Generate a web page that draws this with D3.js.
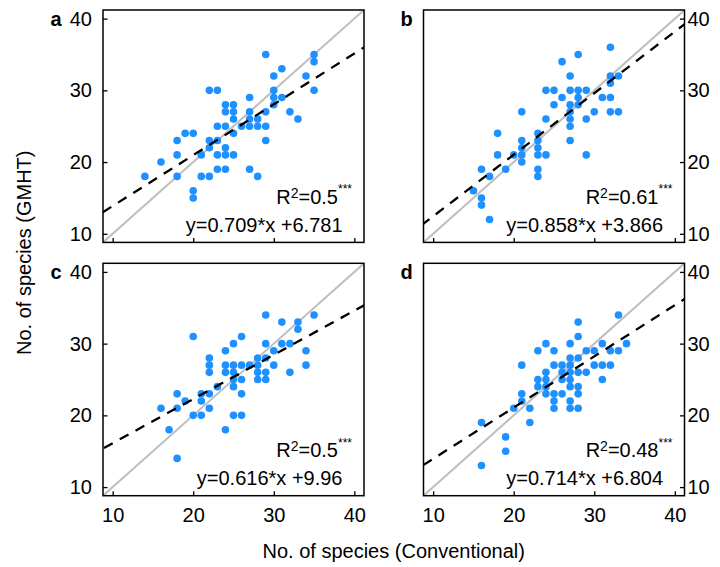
<!DOCTYPE html>
<html>
<head>
<meta charset="utf-8">
<script src="https://cdn.jsdelivr.net/npm/d3@7"></script>
<style>
  body { margin: 0; background: #fff; }
  svg text { font-family: "Liberation Sans", Arial, Helvetica, sans-serif; }
</style>
</head>
<body>
<div id="chart"></div>
<script>
// panel labels, fits and stats
const panelLabels = ["a", "b", "c", "d"];
const slopes = [0.709, 0.858, 0.616, 0.714];
const intercepts = [6.781, 3.866, 9.96, 6.804];
const r2 = ["0.5", "0.61", "0.5", "0.48"];
const ticks = [10, 20, 30, 40];

// [conventional, GMHT] species counts per site
const pointsA = [[29,35],[35,35],[35,34],[35,30],[31,33],[34,32],[30,32],[22,30],[23,30],[30,30],
  [30,29],[31,29],[30,28],[27,29],[24,28],[25,28],[24,27],[25,27],[27,27],[29,27],[32,27],
  [25,26],[27,26],[28,26],[33,26],[23,25],[24,25],[26,25],[27,25],[28,25],[29,25],[19,24],
  [20,24],[25,24],[18,23],[22,23],[23,23],[29,23],[22,22],[24,22],[18,21],[21,21],[23,21],
  [24,21],[25,21],[16,20],[14,18],[18,18],[21,18],[22,18],[23,19],[24,19],[27,19],[28,18],
  [20,16],[20,15]];
const pointsB = [[32,36],[28,35],[26,34],[27,32],[32,32],[33,32],[32,31],[24,30],[25,30],[27,30],
  [28,30],[29,30],[26,29],[28,29],[31,29],[32,29],[25,28],[27,28],[28,28],[27,27],[21,27],
  [30,27],[32,27],[33,27],[24,26],[27,26],[29,26],[27,25],[18,24],[23,24],[23,23],[21,23],
  [27,23],[21,22],[23,22],[18,21],[20,21],[21,21],[23,21],[24,21],[29,21],[21,20],[16,19],
  [19,19],[23,19],[17,18],[23,18],[15,16],[16,15],[16,14],[17,12]];
const pointsC = [[29,34],[35,34],[31,33],[33,33],[33,32],[20,31],[26,31],[25,30],[29,30],[31,30],
  [32,30],[24,29],[30,29],[34,29],[22,28],[28,28],[29,28],[22,27],[24,27],[25,27],[26,27],
  [27,27],[28,27],[30,27],[34,27],[22,26],[24,26],[25,26],[28,26],[29,26],[32,26],[25,25],
  [26,25],[28,25],[29,25],[23,24],[25,24],[18,23],[21,23],[22,23],[26,23],[19,22],[21,22],
  [16,21],[18,21],[22,21],[20,20],[21,20],[25,20],[26,20],[17,18],[24,18],[18,14]];
const pointsD = [[33,34],[28,33],[28,31],[24,30],[27,30],[31,30],[34,30],[23,29],[25,29],[29,29],
  [30,29],[32,29],[33,29],[27,28],[28,28],[21,27],[25,27],[26,27],[27,27],[30,27],[31,27],
  [32,27],[24,26],[26,26],[27,26],[28,26],[29,26],[23,25],[24,25],[26,25],[27,25],[31,25],
  [23,24],[24,24],[27,24],[28,24],[21,23],[24,23],[25,23],[26,23],[28,23],[21,22],[25,22],
  [27,22],[20,21],[22,21],[25,21],[27,21],[28,21],[16,19],[22,19],[19,17],[19,15],[16,13]];
const allPoints = [pointsA, pointsB, pointsC, pointsD];

const W = 720, H = 567;
const pw = 261, ph = 232.4;
const lefts = [103, 423.5], tops = [10, 263.3];
const fs = 20;

const svg = d3.select("#chart").append("svg")
    .attr("width", W)
    .attr("height", H);

allPoints.forEach(function(pts, i) {
    let col = i % 2, row = Math.floor(i / 2);
    let x0 = lefts[col], y0 = tops[row];

    let x = d3.scaleLinear().domain([8.8, 41.2]).range([x0, x0 + pw]);
    let y = d3.scaleLinear().domain([8.8, 41.2]).range([y0 + ph, y0]);

    let clipId = "clip" + i;
    svg.append("clipPath").attr("id", clipId)
      .append("rect")
        .attr("x", x0).attr("y", y0).attr("width", pw).attr("height", ph);

    let g = svg.append("g");
    let plot = g.append("g").attr("clip-path", "url(#" + clipId + ")");

    // 1:1 line
    plot.append("line")
        .attr("x1", x(5)).attr("y1", y(5))
        .attr("x2", x(45)).attr("y2", y(45))
        .attr("stroke", "#bebebe")
        .attr("stroke-width", 2);

    // points
    plot.selectAll("circle")
      .data(pts)
      .enter().append("circle")
        .attr("cx", d => x(d[0]))
        .attr("cy", d => y(d[1]))
        .attr("r", 3.8)
        .attr("fill", "#1e90ff");

    // fitted line
    plot.append("line")
        .attr("x1", x(5)).attr("y1", y(slopes[i] * 5 + intercepts[i]))
        .attr("x2", x(45)).attr("y2", y(slopes[i] * 45 + intercepts[i]))
        .attr("stroke", "#000")
        .attr("stroke-width", 2.3)
        .attr("stroke-dasharray", "10,8");

    // x axis (labels on bottom row only)
    let xa = g.append("g")
        .attr("transform", "translate(0," + (y0 + ph) + ")")
        .call(d3.axisBottom(x).tickValues(ticks).tickSizeInner(-4.5).tickSizeOuter(0).tickPadding(12));
    xa.select(".domain").remove();
    xa.selectAll("line").attr("stroke-width", 1.3);
    xa.selectAll("text").attr("font-size", fs).attr("fill", "#000")
        .style("display", row === 1 ? null : "none");

    // y axis, left for a/c, right for b/d
    let axis = col === 0 ? d3.axisLeft(y).tickPadding(11) : d3.axisRight(y).tickPadding(3);
    let ya = g.append("g")
        .attr("transform", "translate(" + (col === 0 ? x0 : x0 + pw) + ",0)")
        .call(axis.tickValues(ticks).tickSizeInner(-4.5).tickSizeOuter(0));
    ya.select(".domain").remove();
    ya.selectAll("line").attr("stroke-width", 1.3);
    ya.selectAll("text").attr("font-size", fs).attr("fill", "#000");

    // frame
    g.append("rect")
        .attr("x", x0).attr("y", y0).attr("width", pw).attr("height", ph)
        .attr("fill", "none").attr("stroke", "#000").attr("stroke-width", 1.5);

    // panel letter
    g.append("text")
        .attr("x", col === 0 ? x0 - 47 : x0 - 17)
        .attr("y", y0 + 15.5)
        .attr("text-anchor", "middle")
        .attr("font-size", fs)
        .attr("font-weight", "bold")
        .text(panelLabels[i]);

    // R2 label
    let rt = g.append("text")
        .attr("x", x0 + pw - 12)
        .attr("y", y0 + ph - 38.4)
        .attr("text-anchor", "end")
        .attr("font-size", fs);
    rt.append("tspan").text("R");
    rt.append("tspan").attr("dy", -6).attr("font-size", 14).text("2");
    rt.append("tspan").attr("dy", 6).text("=" + r2[i]);
    rt.append("tspan").attr("dy", -10.7).attr("font-size", 12).text("***");

    // equation
    g.append("text")
        .attr("x", x0 + pw - 21.5)
        .attr("y", y0 + ph - 10.7)
        .attr("text-anchor", "end")
        .attr("font-size", fs)
        .text("y=" + slopes[i] + "*x +" + intercepts[i]);
});

// axis titles
svg.append("text")
    .attr("x", 393.7)
    .attr("y", 558)
    .attr("text-anchor", "middle")
    .attr("font-size", fs)
    .text("No. of species (Conventional)");

svg.append("text")
    .attr("transform", "translate(31,252.8) rotate(-90)")
    .attr("text-anchor", "middle")
    .attr("font-size", fs)
    .text("No. of species (GMHT)");
</script>
</body>
</html>
